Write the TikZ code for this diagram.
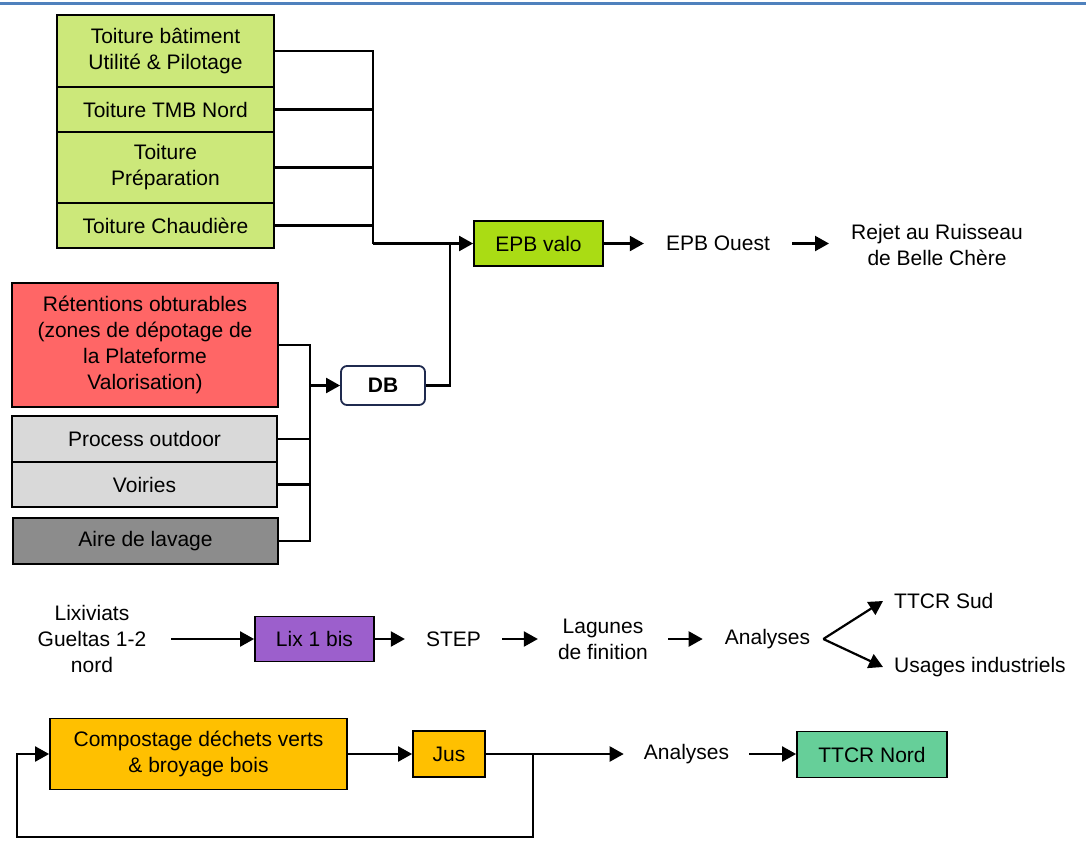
\documentclass[tikz,border=0pt]{standalone}
\usepackage{fontspec}
\setmainfont{Liberation Sans}
\usetikzlibrary{arrows.meta}
\definecolor{lgreen}{HTML}{CCE87A}
\definecolor{vgreen}{HTML}{AADC14}
\definecolor{lred}{HTML}{FF6666}
\definecolor{lgray}{HTML}{D9D9D9}
\definecolor{dgray}{HTML}{8C8C8C}
\definecolor{lpurple}{HTML}{9C5FCC}
\definecolor{lorange}{HTML}{FFC000}
\definecolor{mint}{HTML}{66CF99}
\definecolor{navy}{HTML}{1F2A4F}
\definecolor{topblue}{HTML}{4F81BD}
\tikzset{
  box/.style={draw=black, line width=1.8pt, align=center, inner sep=0pt},
  plain/.style={align=center, inner xsep=21pt, inner ysep=2pt},
  conn/.style={line width=2.2pt},
  arr/.style={line width=2.2pt, -{Triangle[length=14pt,width=15pt]}},
}
\begin{document}
\begin{tikzpicture}[x=1pt,y=-1pt, font=\fontsize{21pt}{26pt}\selectfont]
\useasboundingbox (0,0) rectangle (1086,865);
\draw[topblue, line width=3pt] (0,3) -- (1086,3);

% top group
\node[box, fill=lgreen, minimum width=217pt, minimum height=72pt] (t1) at (165.5,51) {Toiture bâtiment\\Utilité \& Pilotage};
\node[box, fill=lgreen, minimum width=217pt, minimum height=45pt] (t2) at (165.5,109.5) {Toiture TMB Nord};
\node[box, fill=lgreen, minimum width=217pt, minimum height=71pt] (t3) at (165.5,167.5) {Toiture\\Préparation};
\node[box, fill=lgreen, minimum width=217pt, minimum height=45pt] (t4) at (165.5,225.5) {Toiture Chaudière};

\node[box, fill=vgreen, minimum width=129pt, minimum height=45pt] (epb) at (538.5,243.5) {EPB valo};
\node[plain, inner xsep=22pt] (ouest) at (718,243.5) {EPB Ouest};
\node[plain, inner xsep=22pt] (rejet) at (937,244.5) {Rejet au Ruisseau\\de Belle Chère};

\coordinate (b1) at (373,243.5);
\coordinate (j2) at (450,243.5);
\draw[conn] (t1.east) -| (b1);
\draw[conn] (t2.east) -- (t2.east -| b1);
\draw[conn] (t3.east) -- (t3.east -| b1);
\draw[conn] (t4.east) -- (t4.east -| b1);
\draw[arr] (b1) -- (epb.west);
\draw[arr] (epb.east) -- (ouest.west);
\draw[arr] (ouest.east) -- (ouest.east -| rejet.west);

% middle group
\node[box, fill=lred, minimum width=266pt, minimum height=124pt] (ret) at (145,345) {Rétentions obturables\\(zones de dépotage de\\la Plateforme\\Valorisation)};
\node[box, fill=lgray, minimum width=265pt, minimum height=46pt] (po) at (144.5,439) {Process outdoor};
\node[box, fill=lgray, minimum width=265pt, minimum height=45pt] (vo) at (144.5,484.5) {Voiries};
\node[box, fill=dgray, minimum width=265pt, minimum height=46pt] (al) at (145.5,541) {Aire de lavage};
\node[draw=navy, line width=1.8pt, rounded corners=6pt, fill=white, minimum width=84pt, minimum height=39pt, inner sep=0pt, font=\fontsize{21pt}{26pt}\selectfont\bfseries] (db) at (383,385.5) {DB};

\coordinate (b2) at (310,385.5);
\draw[conn] (ret.east) -| (b2);
\draw[conn] (al.east) -| (b2);
\draw[conn] (po.east) -- (po.east -| b2);
\draw[conn] (vo.east) -- (vo.east -| b2);
\draw[arr] (b2) -- (db.west);
\draw[conn] (db.east) -| (j2);

% lixiviats row
\node[plain, inner xsep=25pt] (lix) at (92,639) {Lixiviats\\Gueltas 1-2\\nord};
\node[box, fill=lpurple, minimum width=119pt, minimum height=45pt] (lixb) at (314.5,639) {Lix 1 bis};
\node[plain] (stepn) at (453.5,639) {STEP};
\node[plain, inner xsep=20pt] (lag) at (603,639) {Lagunes\\de finition};
\node[plain, inner xsep=13pt] (an1) at (767.5,639) {Analyses};
\node[anchor=west, inner xsep=11pt, inner ysep=2pt] (sud) at (883,601) {TTCR Sud};
\node[anchor=west, inner xsep=11pt, inner ysep=2pt] (usa) at (883,667) {Usages industriels};

\draw[arr] (lix.east) -- (lix.east -| lixb.west);
\draw[arr] (lixb.east) -- (lixb.east -| stepn.west);
\draw[arr] (stepn.east) -- (stepn.east -| lag.west);
\draw[arr, shorten >=9pt] (lag.east) -- (lag.east -| an1.west);
\draw[arr] (an1.east) -- (sud.west);
\draw[arr] (an1.east) -- (usa.west);

% compost row
\node[box, fill=lorange, minimum width=297pt, minimum height=71pt] (comp) at (198.5,754) {Compostage déchets verts\\\& broyage bois};
\node[box, fill=lorange, minimum width=72pt, minimum height=46pt] (jus) at (449,754) {Jus};
\node[plain, inner xsep=20pt] (an2) at (686.5,754) {Analyses};
\node[box, fill=mint, minimum width=150pt, minimum height=46pt] (ttn) at (872,754.5) {TTCR Nord};

\coordinate (j3) at (533,754);
\coordinate (lb) at (17,837);
\draw[arr] (comp.east) -- (comp.east -| jus.west);
\draw[arr] (jus.east) -- (jus.east -| an2.west);
\draw[arr] (j3) -- (j3 |- lb) -- (lb) |- (comp.west);
\draw[arr] (an2.east) -- (an2.east -| ttn.west);
\end{tikzpicture}
\end{document}
